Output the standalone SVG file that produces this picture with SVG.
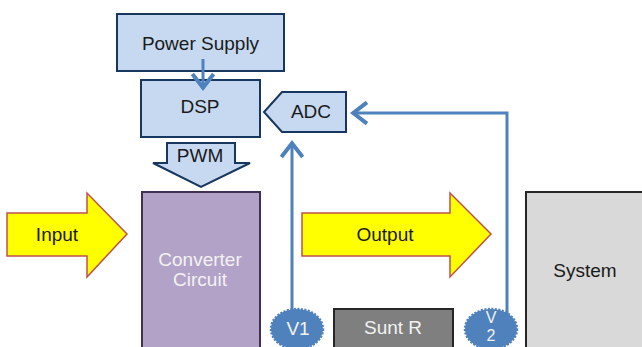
<svg xmlns="http://www.w3.org/2000/svg" width="642" height="347" viewBox="0 0 642 347">
<style>
.t{font-family:"Liberation Sans",Arial,sans-serif;font-size:19px;text-anchor:middle;fill:#1a1a1a}
.w{fill:#f2f2f2}
.s{font-size:16px}
.blue{fill:#c6d9f1;stroke:#17375e;stroke-width:2}
.yel{fill:#ffff00;stroke:#c0504d;stroke-width:1.5}
.conn{fill:none;stroke:#4f81bd;stroke-width:3}
.probe{fill:#4f81bd;stroke:#4f81bd;stroke-width:2.5;stroke-dasharray:2 1.5}
</style>
<defs>
<marker id="arr" markerUnits="userSpaceOnUse" markerWidth="30" markerHeight="30" viewBox="-16 -12 20 24" refX="0" refY="0" orient="auto">
<path d="M-12,-8.5 L-1,0 L-12,8.5" fill="none" stroke="#4f81bd" stroke-width="3.2"/>
</marker>
</defs>
<rect width="642" height="347" fill="#ffffff"/>
<g id="converter">
<rect x="142" y="192" width="118" height="170" fill="#b3a2c7" stroke="#3f3151" stroke-width="2"/>
<text class="t w" x="200" y="266">Converter</text>
<text class="t w" x="200" y="286">Circuit</text>
</g>
<g id="system">
<rect x="526" y="192" width="130" height="170" fill="#d9d9d9" stroke="#262626" stroke-width="2"/>
<text class="t" x="585" y="277">System</text>
</g>
<g id="sunt-r">
<rect x="334" y="309" width="119" height="50" fill="#7f7f7f" stroke="#262626" stroke-width="2"/>
<text class="t w" x="393" y="334">Sunt R</text>
</g>
<g id="power-supply">
<rect class="blue" x="117" y="14" width="167" height="57"/>
<text class="t" x="200.5" y="50">Power Supply</text>
</g>
<g id="dsp">
<rect class="blue" x="141" y="80" width="119" height="57"/>
<text class="t" x="200" y="113">DSP</text>
</g>
<g id="adc">
<polygon class="blue" points="282,92 346,92 346,132 282,132 264,112"/>
<text class="t" x="311" y="118">ADC</text>
</g>
<g id="pwm">
<polygon class="blue" points="167,143 235,143 235,163 250,163 201,187 153,163 167,163"/>
<text class="t" x="200" y="162">PWM</text>
</g>
<g id="input">
<polygon class="yel" points="7,213 87,213 87,193 127,234 87,277 87,256 7,256"/>
<text class="t" x="57" y="241">Input</text>
</g>
<g id="output">
<polygon class="yel" points="302,213 450,213 450,193 491,234 450,277 450,256 302,256"/>
<text class="t" x="385" y="241">Output</text>
</g>
<g id="connectors">
<path class="conn" d="M203,59 V89" marker-end="url(#arr)"/>
<path class="conn" d="M292,314 V142" marker-end="url(#arr)"/>
<path class="conn" d="M507,314 V113 H352" marker-end="url(#arr)"/>
</g>
<g id="v1">
<ellipse class="probe" cx="297" cy="329" rx="26" ry="20"/>
<text class="t w" x="298" y="335">V1</text>
</g>
<g id="v2">
<ellipse class="probe" cx="491" cy="329" rx="26" ry="20"/>
<text class="t w s" x="491" y="323">V</text>
<text class="t w s" x="491" y="341">2</text>
</g>
</svg>
